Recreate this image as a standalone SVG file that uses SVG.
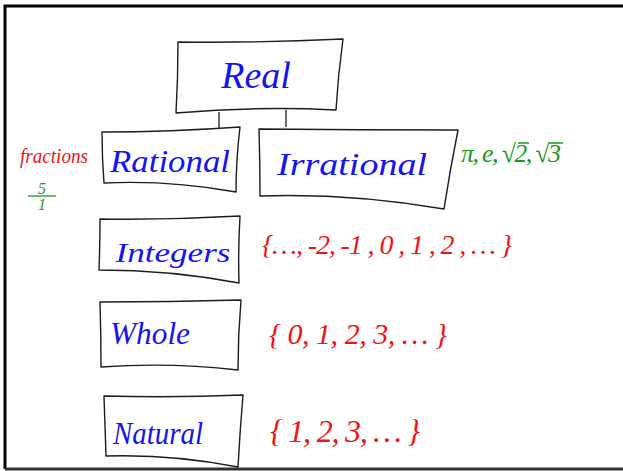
<svg xmlns="http://www.w3.org/2000/svg" width="623" height="471" viewBox="0 0 623 471">
<style>
.box{fill:none;stroke:#1c1c1c;stroke-width:1.4;stroke-linejoin:round}
.lbl{font-family:"Liberation Serif",serif;font-style:italic;fill:#1414f0;text-anchor:middle}
.red{font-family:"Liberation Serif",serif;font-style:italic;fill:#f01414}
.grn{font-family:"Liberation Serif",serif;font-style:italic;fill:#1a9a1a}
.conn{stroke:#1c1c1c;stroke-width:1.3;fill:none}
</style>
<rect width="623" height="471" fill="#fff"/>
<path d="M5,469 V6 H623" fill="none" stroke="#000" stroke-width="3"/>
<path d="M5,469 H623" fill="none" stroke="#333" stroke-width="3"/>
<g id="connectors">
<path class="conn" d="M219,112 V129"/>
<path class="conn" d="M286,110 V127"/>
</g>
<g id="real">
<path class="box" d="M178,42 Q260,43 343,39 Q338,75 336,110 Q256,106 176,113 Q178,78 178,42 Z"/>
<text class="lbl" x="256" y="88" font-size="38">Real</text>
</g>
<g id="rational">
<path class="box" d="M102,132 Q170,132 240,127 Q236,160 236,192 Q170,180 104,183 Q102,158 102,132 Z"/>
<text class="lbl" x="170" y="172" font-size="32" textLength="120" lengthAdjust="spacingAndGlyphs">Rational</text>
</g>
<g id="irrational">
<path class="box" d="M259,129 Q360,130 458,130 Q450,170 444,209 Q350,193 260,196 Q260,162 259,129 Z"/>
<text class="lbl" x="352" y="175" font-size="32" textLength="150" lengthAdjust="spacingAndGlyphs">Irrational</text>
</g>
<g id="integers">
<path class="box" d="M100,219 Q170,220 240,216 Q238,250 239,283 Q170,270 99,270 Q100,245 100,219 Z"/>
<text class="lbl" x="173" y="262" font-size="28" textLength="115" lengthAdjust="spacingAndGlyphs">Integers</text>
</g>
<g id="whole">
<path class="box" d="M100,302 Q170,302 241,300 Q238,335 238,370 Q170,362 101,367 Q101,335 100,302 Z"/>
<text class="lbl" x="150" y="344" font-size="32" textLength="80" lengthAdjust="spacingAndGlyphs">Whole</text>
</g>
<g id="natural">
<path class="box" d="M104,396 Q174,398 243,395 Q240,430 238,467 Q172,454 106,456 Q105,426 104,396 Z"/>
<text class="lbl" x="158" y="444" font-size="32" textLength="90" lengthAdjust="spacingAndGlyphs">Natural</text>
</g>
<g id="notes">
<text class="red" x="20" y="163" font-size="22" textLength="68" lengthAdjust="spacingAndGlyphs">fractions</text>
<text class="grn" x="42" y="194" font-size="16" text-anchor="middle">5</text>
<path d="M28,196 H56" stroke="#1a9a1a" stroke-width="1.3"/>
<text class="grn" x="42" y="210" font-size="16" text-anchor="middle">1</text>
<text class="grn" x="461" y="162" font-size="26" textLength="100" lengthAdjust="spacing">π, e, √2, √3</text>
<path d="M518,143 H529 M549,143 H563" stroke="#1a9a1a" stroke-width="1.3"/>
<text class="red" x="262" y="254" font-size="28" textLength="250" lengthAdjust="spacing">{…, -2, -1 , 0 , 1 , 2 , … }</text>
<text class="red" x="269" y="344" font-size="30" textLength="178" lengthAdjust="spacing">{ 0, 1, 2, 3, … }</text>
<text class="red" x="270" y="442" font-size="32" textLength="150" lengthAdjust="spacing">{ 1, 2, 3, … }</text>
</g>
</svg>
